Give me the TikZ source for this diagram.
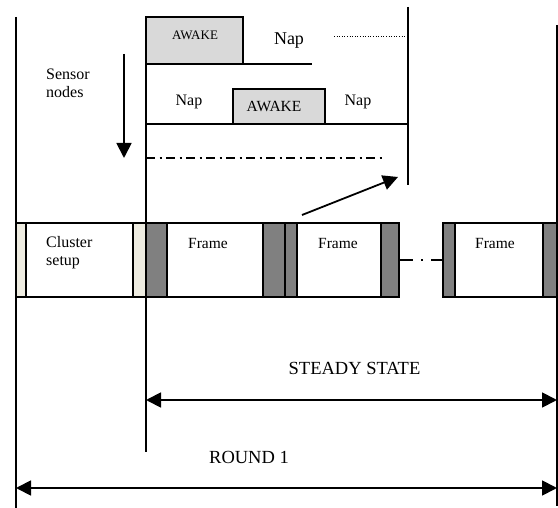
\documentclass[tikz,border=0pt]{standalone}
\usepackage{fontspec}
\setmainfont{Liberation Serif}
\usetikzlibrary{arrows.meta}
\definecolor{awakegray}{HTML}{D9D9D9}
\definecolor{beigestrip}{HTML}{EEECE1}
\definecolor{darkstrip}{HTML}{808080}
\begin{document}
\begin{tikzpicture}[x=1pt,y=-1pt,
  ln/.style={line width=1.5pt},
  cell/.style={draw, line width=1.3pt, minimum height=74pt, inner sep=0pt, outer sep=0pt},
  txt/.style={inner sep=0pt, anchor=base},
  ltxt/.style={inner sep=0pt, anchor=base west, font=\fontsize{16}{18}\selectfont},
  arr/.style={line width=1.8pt, -{Triangle[length=15pt,width=15pt]}},
  darr/.style={line width=1.8pt, {Triangle[length=15pt,width=15pt]}-{Triangle[length=15pt,width=15pt]}}]
\useasboundingbox (0,0) rectangle (558,508);
\fill[white] (0,0) rectangle (558,508);

% frame row
\node[cell, fill=beigestrip, minimum width=10pt]  (bl)  at (21,260) {};
\node[cell, fill=white,      minimum width=107pt] (cs)  at (79.5,260) {};
\node[cell, fill=beigestrip, minimum width=13pt]  (br)  at (139.5,260) {};
\node[cell, fill=darkstrip,  minimum width=21pt]  (d1a) at (156.5,260) {};
\node[cell, fill=white,      minimum width=96pt]  (f1)  at (215,260) {};
\node[cell, fill=darkstrip,  minimum width=22pt]  (d1b) at (274,260) {};
\node[cell, fill=darkstrip,  minimum width=12pt]  (d2a) at (291,260) {};
\node[cell, fill=white,      minimum width=84pt]  (f2)  at (339,260) {};
\node[cell, fill=darkstrip,  minimum width=18pt]  (d2b) at (390,260) {};
\node[cell, fill=darkstrip,  minimum width=12pt]  (d3a) at (449,260) {};
\node[cell, fill=white,      minimum width=88pt]  (f3)  at (499,260) {};
\node[cell, fill=darkstrip,  minimum width=14pt]  (d3b) at (550,260) {};
\draw[line width=1.3pt, dash pattern=on 14pt off 8pt on 2pt off 8pt] (d2b.east) -- (d3a.west);

\node[ltxt] (cst1) at (46,248) {Cluster};
\node[ltxt] (cst2) at (46,266) {setup};
\node[txt, font=\fontsize{15.5}{18}\selectfont] (f1t) at (208,249) {Frame};
\node[txt, font=\fontsize{15.5}{18}\selectfont] (f2t) at (338,249) {Frame};
\node[txt, font=\fontsize{15.5}{18}\selectfont] (f3t) at (495,249) {Frame};

% vertical lines
\coordinate (l1t) at (16,17);  \coordinate (l1b) at (16,508);
\coordinate (l2t) at (146,17); \coordinate (l2b) at (146,452);
\coordinate (l3t) at (557,25); \coordinate (l3b) at (557,506);
\coordinate (l4t) at (408,7);  \coordinate (l4b) at (408,185);
\draw[ln] (l1t) -- (l1b);
\draw[ln] (l2t) -- (l2b);
\draw[ln] (l3t) -- (l3b);
\draw[ln] (l4t) -- (l4b);

% sensor rows
\node[draw, line width=1.3pt, fill=awakegray, minimum width=97pt, minimum height=47pt, inner sep=0pt, outer sep=0pt, anchor=north west] (aw1) at (146,17) {};
\node[txt, font=\fontsize{13}{15}\selectfont] (aw1t) at (195,40) {AWAKE};
\coordinate (r1e) at (312,64);
\draw[ln] (aw1.south west) -- (r1e);
\node[txt, font=\fontsize{18}{20}\selectfont] (nap1) at (289,45) {Nap};
\coordinate (dots1) at (334,37); \coordinate (dots2) at (408,37);
\draw[line width=1pt, dash pattern=on 1pt off 1.6pt] (dots1) -- (dots2);

\node[draw, line width=1.3pt, fill=awakegray, minimum width=92pt, minimum height=35pt, inner sep=0pt, outer sep=0pt, anchor=south west] (aw2) at (233,124) {};
\node[txt, font=\fontsize{15.5}{17}\selectfont] (aw2t) at (274,112) {AWAKE};
\node[txt, font=\fontsize{16}{18}\selectfont] (nap2) at (189,106) {Nap};
\node[txt, font=\fontsize{16}{18}\selectfont] (nap3) at (358,106) {Nap};
\coordinate (r2s) at (146,124); \coordinate (r2e) at (408,124);
\draw[ln] (r2s) -- (r2e);

\coordinate (dd1) at (146,158); \coordinate (dd2) at (383,158);
\draw[line width=1.3pt, dash pattern=on 9pt off 4.5pt on 2pt off 4.5pt] (dd1) -- (dd2);

% sensor nodes label and arrow
\node[ltxt] (sn1) at (46,80) {Sensor};
\node[ltxt] (sn2) at (46,98) {nodes};
\coordinate (sa1) at (124,54); \coordinate (sa2) at (124,158);
\draw[arr] (sa1) -- (sa2);

% zoom arrow
\coordinate (za1) at (302,215); \coordinate (za2) at (398,177);
\draw[arr] (za1) -- (za2);

% spans
\node[txt, font=\fontsize{18.5}{20}\selectfont] (ss) at (354.5,374) {STEADY STATE};
\coordinate (ssa) at (146,400); \coordinate (ssb) at (557,400);
\draw[darr] (ssa) -- (ssb);
\node[txt, font=\fontsize{18.5}{20}\selectfont] (rd) at (249,464) {ROUND 1};
\coordinate (rda) at (16,488); \coordinate (rdb) at (557,488);
\draw[darr] (rda) -- (rdb);
\end{tikzpicture}
\end{document}
